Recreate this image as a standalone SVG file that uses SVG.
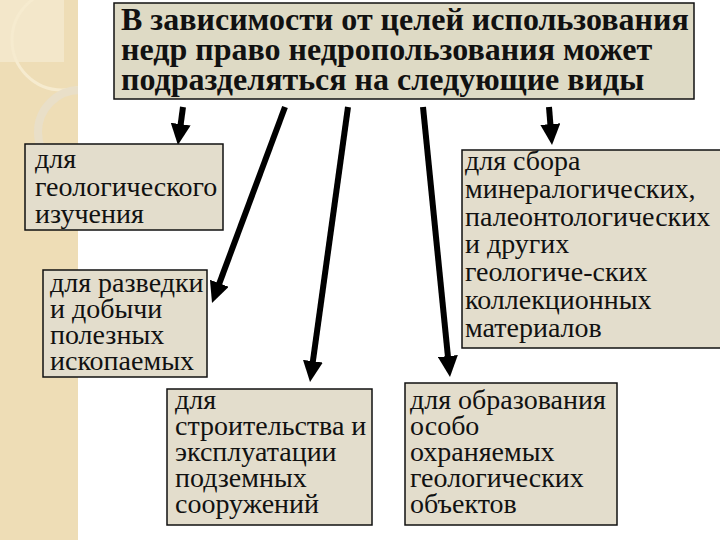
<svg xmlns="http://www.w3.org/2000/svg" width="720" height="540" viewBox="0 0 720 540">
<defs>
<style>
.box{fill:#E3DDCC;stroke:#111;stroke-width:1.5}
.top{fill:#DEDAC5;stroke:#111;stroke-width:1.5}
.t{font-family:"Liberation Serif","Times New Roman",serif;font-size:28px;fill:#111}
.h{font-family:"Liberation Serif","Times New Roman",serif;font-size:32px;font-weight:bold;fill:#111}
.arr{stroke:#000;stroke-width:6;fill:none;marker-end:url(#ah)}
</style>
<marker id="ah" markerUnits="userSpaceOnUse" markerWidth="22" markerHeight="20" viewBox="0 0 22 20" refX="3" refY="10" orient="auto">
<path d="M0,0 L21,10 L0,20 z" fill="#000"/>
</marker>
</defs>
<rect width="720" height="540" fill="#fff"/>
<g id="bg">
<rect x="0" y="0" width="78" height="540" fill="#EEDDB6"/>
<rect x="0" y="0" width="64" height="62" fill="#F3E7CA"/>
<circle cx="62" cy="40" r="50" fill="none" stroke="#F6EBCF" stroke-width="3"/>
<circle cx="80" cy="132" r="42" fill="none" stroke="#E9DFC8" stroke-width="8"/>
<rect x="78" y="0" width="642" height="540" fill="#fff"/>
</g>
<g id="connectors">
<line class="arr" x1="183" y1="107" x2="180.3" y2="127.1"/>
<line class="arr" x1="285" y1="107" x2="218.3" y2="286.1"/>
<line class="arr" x1="348" y1="107" x2="312.5" y2="364.2"/>
<line class="arr" x1="423" y1="107" x2="448.2" y2="359.1"/>
<line class="arr" x1="549" y1="107" x2="550.6" y2="127.1"/>
</g>
<g id="n0">
<rect class="top" x="114" y="3" width="580" height="96"/>
<text class="h" x="121" y="30">В зависимости от целей использования</text>
<text class="h" x="121" y="60">недр право недропользования может</text>
<text class="h" x="121" y="90">подразделяться на следующие виды</text>
</g>
<g id="n1">
<rect class="box" x="25" y="144" width="198" height="86"/>
<text class="t" x="35" y="168">для</text>
<text class="t" x="35" y="196">геологического</text>
<text class="t" x="35" y="223">изучения</text>
</g>
<g id="n2">
<rect class="box" x="43" y="270" width="164" height="107"/>
<text class="t" x="50" y="292">для разведки</text>
<text class="t" x="50" y="318">и добычи</text>
<text class="t" x="50" y="344">полезных</text>
<text class="t" x="50" y="370">ископаемых</text>
</g>
<g id="n3">
<rect class="box" x="167" y="389" width="205" height="136"/>
<text class="t" x="175" y="409">для</text>
<text class="t" x="175" y="435">строительства и</text>
<text class="t" x="175" y="461">эксплуатации</text>
<text class="t" x="175" y="487">подземных</text>
<text class="t" x="175" y="513">сооружений</text>
</g>
<g id="n4">
<rect class="box" x="405" y="383" width="212" height="142"/>
<text class="t" x="410" y="409">для образования</text>
<text class="t" x="410" y="435">особо</text>
<text class="t" x="410" y="461">охраняемых</text>
<text class="t" x="410" y="487">геологических</text>
<text class="t" x="410" y="513">объектов</text>
</g>
<g id="n5">
<rect class="box" x="462" y="150" width="260" height="198"/>
<text class="t" x="465" y="170">для сбора</text>
<text class="t" x="465" y="198">минералогических,</text>
<text class="t" x="465" y="226">палеонтологических</text>
<text class="t" x="465" y="253">и других</text>
<text class="t" x="465" y="281">геологиче-ских</text>
<text class="t" x="465" y="309">коллекционных</text>
<text class="t" x="465" y="337">материалов</text>
</g>
</svg>
